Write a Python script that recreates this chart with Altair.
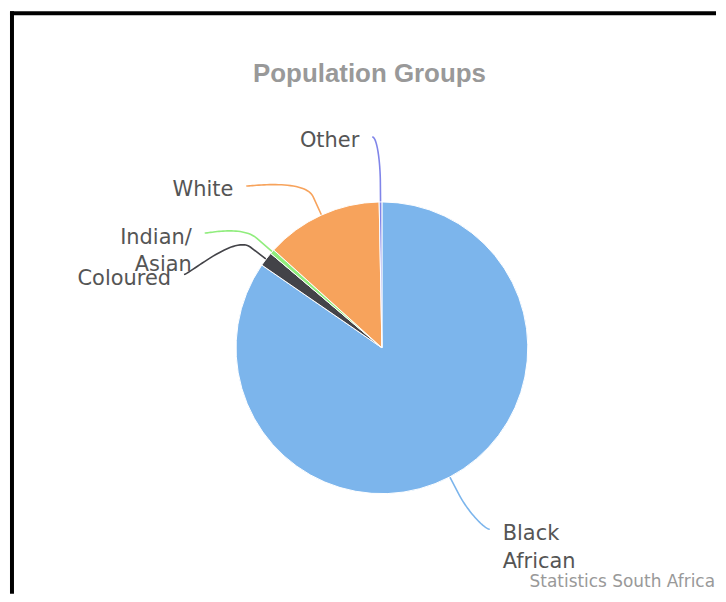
import math
import altair as alt
import pandas as pd

# ---------------- data ----------------
categories = ["Black African", "Coloured", "Indian/Asian", "White", "Other"]
values = [84.6, 1.6, 0.5, 13.0, 0.3]
label_texts = ["Black\nAfrican", "Coloured", "Indian/\nAsian", "White", "Other"]
title_text = "Population Groups"
credit_text = "Statistics South Africa"

# ---------------- style / layout ----------------
colors = ["#7cb5ec", "#434348", "#90ed7d", "#f7a35c", "#8085e9"]
W, H = 710, 586
CX, CY, R = 374.5, 339.0, 146.5
LABEL_R = 212.0
BREAK = 20.0
TEXT_GAP = 13.0
# label nudges (degrees) that spread the crowded labels apart
LABEL_SHIFT = {"Black African": -3.0, "Coloured": -17.1, "Indian/Asian": -8.3,
               "White": -15.5, "Other": -2.1}


def polar(deg, r):
    a = math.radians(deg)
    return CX + r * math.sin(a), CY - r * math.cos(a)


total = sum(values)
cum = 0.0
pie_rows, conn_rows, label_rows = [], [], []
for i, (cat, v, txt) in enumerate(zip(categories, values, label_texts)):
    mid = (cum + v / 2) / total * 360.0
    cum += v
    pie_rows.append(dict(category=cat, value=v, order=i))
    T = polar(mid, R)
    B = polar(mid, R + BREAK)
    C2 = polar(mid, R + 2 * BREAK)
    lab = mid + LABEL_SHIFT[cat]
    L = polar(lab, LABEL_R)
    right = (lab % 360) < 180
    C1 = (L[0] + (-5 if right else 5), L[1])
    n = 30
    for k in range(n + 1):
        t = k / n
        a, b, c, d = (1 - t) ** 3, 3 * (1 - t) ** 2 * t, 3 * (1 - t) * t ** 2, t ** 3
        x = a * L[0] + b * C1[0] + c * C2[0] + d * B[0]
        y = a * L[1] + b * C1[1] + c * C2[1] + d * B[1]
        conn_rows.append(dict(category=cat, seq=k, x=x, y=y))
    conn_rows.append(dict(category=cat, seq=n + 1, x=T[0], y=T[1]))
    label_rows.append(dict(category=cat, label=txt,
                           x=L[0] + (TEXT_GAP if right else -TEXT_GAP),
                           y=L[1] - 6.5,
                           side="right" if right else "left"))

pie_df = pd.DataFrame(pie_rows)
conn_df = pd.DataFrame(conn_rows)
label_df = pd.DataFrame(label_rows)

xs = alt.Scale(domain=[0, W], nice=False, zero=False)
ys = alt.Scale(domain=[0, H], nice=False, zero=False, reverse=True)
color = alt.Color("category:N", scale=alt.Scale(domain=categories, range=colors), legend=None)

one = pd.DataFrame({"k": [0]})

border_left = alt.Chart(one).mark_rule(color="black", strokeWidth=4).encode(
    x=alt.value(3), y=alt.value(1), y2=alt.value(H))
border_top = alt.Chart(one).mark_rule(color="black", strokeWidth=4).encode(
    y=alt.value(3), x=alt.value(1), x2=alt.value(W))

title = alt.Chart(pd.DataFrame({"t": [title_text]})).mark_text(
    font="Liberation Sans", fontWeight="bold", fontSize=26, color="#999999",
    align="center", baseline="middle").encode(
    text="t:N", x=alt.value(362), y=alt.value(64))

credit = alt.Chart(pd.DataFrame({"t": [credit_text]})).mark_text(
    font="DejaVu Sans", fontSize=17, color="#999999",
    align="right", baseline="middle").encode(
    text="t:N", x=alt.value(W - 1), y=alt.value(574))

pie = alt.Chart(pie_df).mark_arc(radius=R, stroke="white", strokeWidth=1).encode(
    theta=alt.Theta("value:Q", stack=True),
    color=color,
    order=alt.Order("order:Q"),
    x=alt.value(CX), y=alt.value(CY))

connectors = alt.Chart(conn_df).mark_line(strokeWidth=1.6).encode(
    x=alt.X("x:Q", scale=xs, axis=None),
    y=alt.Y("y:Q", scale=ys, axis=None),
    color=color,
    order=alt.Order("seq:Q"))

label_base = alt.Chart(label_df).encode(
    x=alt.X("x:Q", scale=xs, axis=None),
    y=alt.Y("y:Q", scale=ys, axis=None),
    text="label:N")
labels_left = label_base.transform_filter(alt.datum.side == "left").mark_text(
    font="DejaVu Sans", fontSize=21, color="#555555", align="right",
    baseline="top", lineHeight=28, lineBreak="\n")
labels_right = label_base.transform_filter(alt.datum.side == "right").mark_text(
    font="DejaVu Sans", fontSize=21, color="#555555", align="left",
    baseline="top", lineHeight=28, lineBreak="\n")

chart = alt.layer(
    connectors, pie, labels_left, labels_right, title, credit, border_left, border_top
).properties(width=W, height=H, padding=0).configure_view(stroke=None)

chart.save("out.html", embed_options={"renderer": "svg", "actions": False})
